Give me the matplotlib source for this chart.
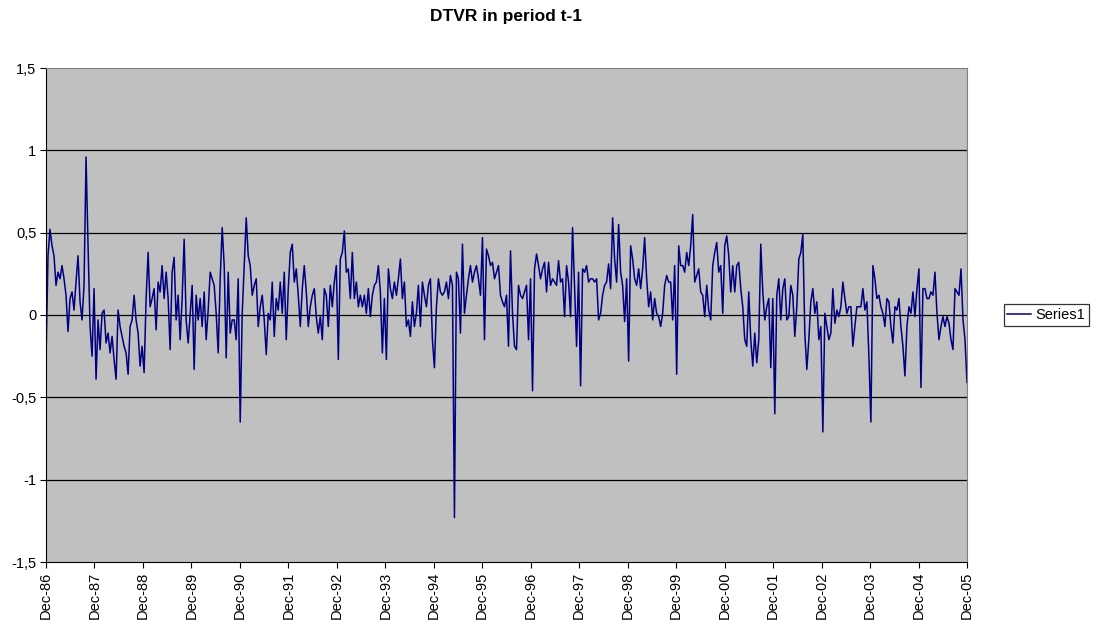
import numpy as np
import pandas as pd
import matplotlib
matplotlib.use("Agg")
import matplotlib.pyplot as plt

plt.rcParams['font.family'] = ['Liberation Sans', 'DejaVu Sans']

# DTVR values, evenly spaced from Dec-86 to Dec-05
dtvr_86_88 = [-0.27, 0.36, 0.52, 0.42, 0.36, 0.18, 0.26, 0.22, 0.30, 0.22, 0.12, -0.10,
              0.10, 0.14, 0.03, 0.20, 0.36, 0.08, -0.03, 0.18, 0.96, 0.42, -0.07, -0.25,
              0.16, -0.39, -0.03, -0.21, 0.01, 0.03, -0.17, -0.11, -0.23, -0.13, -0.27, -0.39,
              0.03, -0.07, -0.13, -0.19, -0.23, -0.36, -0.07, -0.03, 0.12]
dtvr_88_90 = [-0.03, -0.11, -0.31, -0.19, -0.35, 0.10, 0.38, 0.05, 0.10, 0.16, -0.09, 0.20,
              0.14, 0.30, 0.10, 0.26, 0.10, -0.21, 0.26, 0.35, -0.03, 0.12, -0.15, 0.10,
              0.46, -0.03, -0.17, 0.01, 0.18, -0.33, 0.12, -0.03, 0.10, -0.07, 0.14, -0.15,
              0.03, 0.26, 0.22, 0.18, 0.01, -0.23, 0.22, 0.53, 0.30, -0.26]
dtvr_90_92 = [0.26, -0.11, -0.03, -0.03, -0.15, 0.22, -0.65, 0.01, 0.30, 0.59, 0.36, 0.30,
              0.12, 0.18, 0.22, -0.07, 0.05, 0.12, -0.03, -0.24, 0.01, -0.03, 0.20, -0.13,
              0.10, 0.03, 0.20, 0.01, 0.26, -0.15, 0.16, 0.38, 0.43, 0.20, 0.28, 0.12,
              -0.07, 0.16, 0.30, 0.14, -0.07, 0.05, 0.12, 0.16, -0.01, -0.11]
dtvr_92_94 = [-0.01, -0.15, 0.16, 0.12, -0.07, 0.18, 0.05, 0.20, 0.30, -0.27, 0.34, 0.38,
              0.51, 0.26, 0.28, 0.10, 0.38, 0.10, 0.20, 0.05, 0.12, 0.05, 0.12, 0.01,
              0.16, -0.01, 0.12, 0.18, 0.20, 0.30, 0.14, -0.23, 0.10, -0.27, 0.28, 0.16,
              0.10, 0.20, 0.12, 0.22, 0.34, 0.10, 0.20, -0.07, -0.03, -0.13]
dtvr_94_96 = [0.08, -0.07, 0.01, 0.18, -0.07, 0.20, 0.12, 0.05, 0.18, 0.22, -0.15, -0.32,
              0.05, 0.22, 0.14, 0.12, 0.14, 0.20, 0.10, 0.24, 0.18, -1.23, 0.26, 0.22,
              -0.11, 0.43, 0.01, 0.12, 0.22, 0.30, 0.20, 0.26, 0.30, 0.22, 0.12, 0.47,
              -0.15, 0.40, 0.36, 0.30, 0.32, 0.22, 0.26, 0.30, 0.12, 0.08]
dtvr_96_98 = [0.05, 0.12, -0.19, 0.39, 0.01, -0.19, -0.21, 0.18, 0.12, 0.10, 0.14, 0.18,
              -0.15, 0.22, -0.46, 0.28, 0.37, 0.30, 0.22, 0.28, 0.32, 0.14, 0.32, 0.18,
              0.22, 0.20, 0.18, 0.33, 0.20, 0.22, -0.01, 0.30, 0.20, -0.01, 0.53, 0.16,
              -0.19, 0.26, -0.43, 0.28, 0.26, 0.30, 0.20, 0.22, 0.22, 0.20]
dtvr_98_00 = [0.22, -0.03, 0.01, 0.12, 0.18, 0.20, 0.31, 0.16, 0.59, 0.34, 0.20, 0.55,
              0.26, 0.18, -0.04, 0.22, -0.28, 0.42, 0.34, 0.22, 0.18, 0.28, 0.16, 0.28,
              0.47, 0.22, 0.05, 0.14, -0.03, 0.10, 0.01, -0.01, -0.07, 0.01, 0.18, 0.24,
              0.20, 0.20, -0.03, 0.30, -0.36, 0.42, 0.30, 0.30, 0.26, 0.38]
dtvr_00_02 = [0.30, 0.42, 0.61, 0.20, 0.24, 0.28, 0.14, 0.12, -0.01, 0.18, 0.03, -0.03,
              0.30, 0.38, 0.44, 0.26, 0.30, 0.01, 0.42, 0.48, 0.36, 0.14, 0.30, 0.14,
              0.30, 0.32, 0.16, 0.05, -0.15, -0.19, 0.14, -0.15, -0.31, -0.11, -0.29, -0.15,
              0.43, 0.14, -0.03, 0.05, 0.10, -0.32, 0.10, -0.60, 0.12, 0.22]
dtvr_02_04 = [-0.03, 0.16, 0.22, -0.03, -0.01, 0.18, 0.12, -0.13, 0.05, 0.34, 0.38, 0.49,
              -0.11, -0.33, -0.15, 0.08, 0.16, 0.01, 0.08, -0.15, -0.07, -0.71, 0.01, -0.07,
              -0.15, -0.11, 0.16, -0.05, 0.03, -0.01, 0.05, 0.20, 0.10, 0.01, 0.05, 0.05,
              -0.19, -0.07, 0.05, 0.05, 0.05, 0.16, 0.03, 0.08, -0.25, -0.65]
dtvr_04_05 = [0.30, 0.22, 0.10, 0.12, 0.05, 0.01, -0.07, 0.10, 0.08, -0.07, -0.17, 0.05,
              0.03, 0.10, -0.07, -0.19, -0.37, -0.07, 0.05, 0.01, 0.14, -0.01, 0.16, 0.28,
              -0.44, 0.16, 0.16, 0.10, 0.10, 0.14, 0.12, 0.26, 0.01, -0.15, -0.07, -0.01,
              -0.07, -0.01, -0.05, -0.15, -0.21, 0.16, 0.14, 0.12, 0.28, -0.03, -0.15, -0.41]

dtvr = (dtvr_86_88 + dtvr_88_90 + dtvr_90_92 + dtvr_92_94 + dtvr_94_96
        + dtvr_96_98 + dtvr_98_00 + dtvr_00_02 + dtvr_02_04 + dtvr_04_05)
dates = pd.date_range("1986-12-01", "2005-12-01", periods=len(dtvr))

years = list(range(1986, 2006))
tick_dates = [pd.Timestamp(y, 12, 1) for y in years]
tick_labels = ["Dec-%02d" % (y % 100) for y in years]
y_ticks = [-1.5, -1, -0.5, 0, 0.5, 1, 1.5]
y_labels = ["-1,5", "-1", "-0,5", "0", "0,5", "1", "1,5"]

fig = plt.figure(figsize=(10.96, 6.26), dpi=100)
ax = fig.add_axes([46 / 1096, 1 - 562 / 626, (967 - 46) / 1096, (562 - 68) / 626])
ax.set_facecolor("#C0C0C0")

ax.plot(dates, dtvr, color="#000080", linewidth=1.1, label="Series1")

ax.set_xlim(tick_dates[0], tick_dates[-1])
ax.set_ylim(-1.5, 1.5)
ax.set_yticks(y_ticks)
ax.set_yticklabels(y_labels, fontsize=10.5)
ax.set_xticks(tick_dates)
ax.set_xticklabels(tick_labels, rotation=90, fontsize=10.5)
ax.tick_params(direction="out", length=4, color="black", pad=3)

for v in y_ticks[1:-1]:
    ax.axhline(v, color="black", linewidth=0.9, zorder=1)
ax.set_axisbelow(True)

ax.spines["left"].set_color("black")
ax.spines["bottom"].set_color("black")
ax.spines["top"].set_color("#808080")
ax.spines["right"].set_color("#808080")

fig.text(506 / 1096, 1 - 17 / 626, "DTVR in period t-1", ha="center", va="center",
         fontsize=12.5, fontweight="bold")

leg = ax.legend(loc="center left", bbox_to_anchor=(1.040, 0.5), fontsize=10.5,
                frameon=True, fancybox=False, handlelength=1.6, handletextpad=0.3,
                borderpad=0.25, borderaxespad=0)
leg.get_frame().set_edgecolor("black")
leg.get_frame().set_linewidth(0.9)

fig.savefig("out.png", dpi=100)
